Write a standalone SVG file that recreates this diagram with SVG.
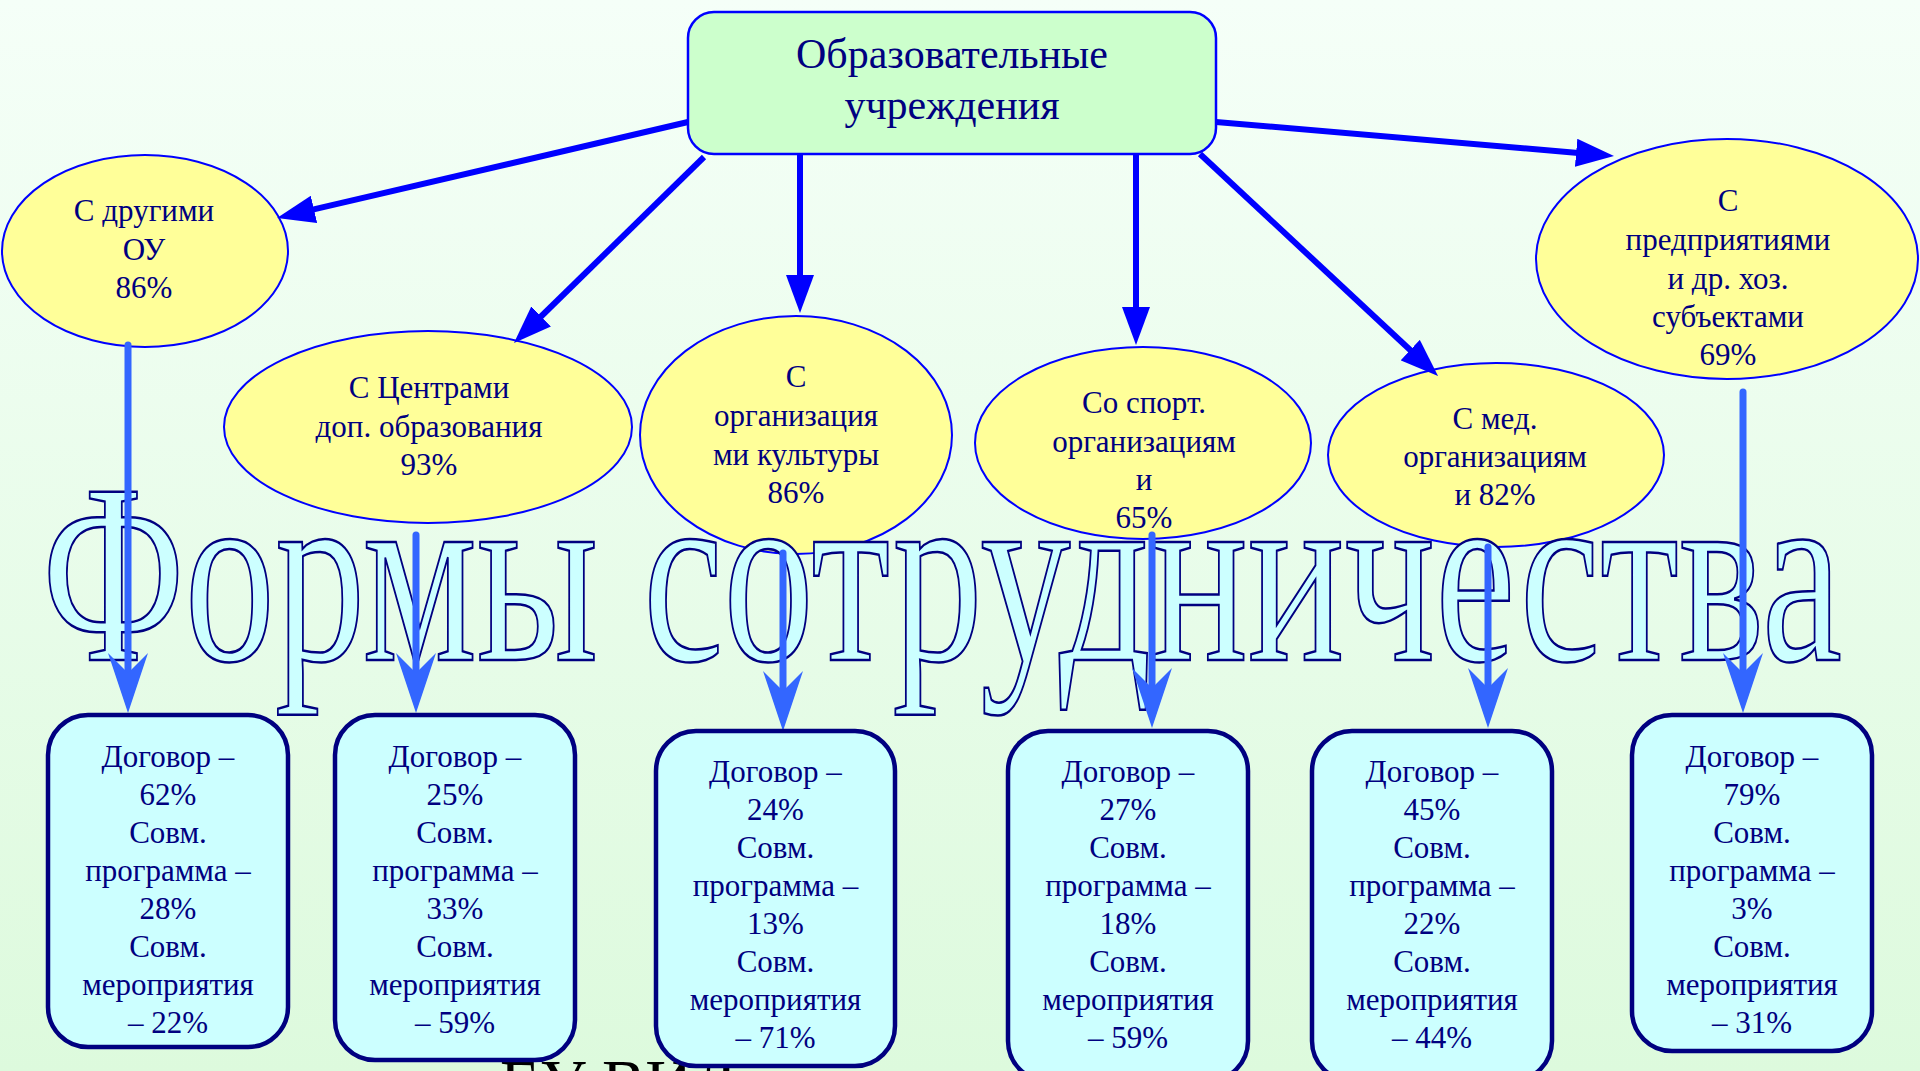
<svg xmlns="http://www.w3.org/2000/svg" width="1920" height="1071" viewBox="0 0 1920 1071">
<defs>
<linearGradient id="bg" x1="0" y1="0" x2="0" y2="1">
<stop offset="0" stop-color="#f5fff8"/>
<stop offset="1" stop-color="#ddfadd"/>
</linearGradient>
<marker id="ah" markerUnits="userSpaceOnUse" viewBox="0 0 40 28" markerWidth="40" markerHeight="28" refX="8" refY="14" orient="auto">
<path d="M0,0 L38,14 L0,28 z" fill="#0000ff"/>
</marker>
<marker id="ah2" markerUnits="userSpaceOnUse" viewBox="0 0 60 40" markerWidth="60" markerHeight="40" refX="22" refY="20" orient="auto">
<path d="M0,0 L60,20 L0,40 L20,20 z" fill="#3366ff"/>
</marker>
<style>
.t{font-family:"Liberation Serif","Times New Roman",serif;fill:#000080;text-anchor:middle;font-size:31px}
.el{fill:#ffff99;stroke:#0000ff;stroke-width:2}
.bx{fill:#ccffff;stroke:#000080;stroke-width:4.5}
.dk{stroke:#0000ff;stroke-width:6;fill:none;marker-end:url(#ah)}
.lt{stroke:#3366ff;stroke-width:7;stroke-linecap:round;fill:none;marker-end:url(#ah2)}
</style>
</defs>
<rect x="0" y="0" width="1920" height="1071" fill="url(#bg)"/>

<g id="root">
<rect x="688" y="12" width="528" height="142" rx="26" fill="#ccffcc" stroke="#0000ff" stroke-width="2.5"/>
<text class="t" style="font-size:42px"><tspan x="952" y="68">Образовательные</tspan><tspan x="952" y="119">учреждения</tspan></text>
</g>

<g id="e1">
<ellipse class="el" cx="145" cy="251" rx="143" ry="96"/>
<text class="t"><tspan x="144" y="221">С другими</tspan><tspan x="144" y="259.5">ОУ</tspan><tspan x="144" y="298">86%</tspan></text>
</g>
<g id="e2">
<ellipse class="el" cx="428" cy="427" rx="204" ry="96"/>
<text class="t"><tspan x="429" y="398">С Центрами</tspan><tspan x="429" y="436.5">доп. образования</tspan><tspan x="429" y="475">93%</tspan></text>
</g>
<g id="e3">
<ellipse class="el" cx="796" cy="435" rx="156" ry="119"/>
<text class="t"><tspan x="796" y="387">С</tspan><tspan x="796" y="426">организация</tspan><tspan x="796" y="465">ми культуры</tspan><tspan x="796" y="503">86%</tspan></text>
</g>
<g id="e4">
<ellipse class="el" cx="1143" cy="443" rx="168" ry="96"/>
<text class="t"><tspan x="1144" y="413">Со спорт.</tspan><tspan x="1144" y="452">организациям</tspan><tspan x="1144" y="490">и</tspan><tspan x="1144" y="528">65%</tspan></text>
</g>
<g id="e5">
<ellipse class="el" cx="1496" cy="455" rx="168" ry="92"/>
<text class="t"><tspan x="1495" y="429">С мед.</tspan><tspan x="1495" y="467">организациям</tspan><tspan x="1495" y="505">и 82%</tspan></text>
</g>
<g id="e6">
<ellipse class="el" cx="1727" cy="259" rx="191" ry="120"/>
<text class="t"><tspan x="1728" y="211">С</tspan><tspan x="1728" y="250">предприятиями</tspan><tspan x="1728" y="289">и др. хоз.</tspan><tspan x="1728" y="327">субъектами</tspan><tspan x="1728" y="365">69%</tspan></text>
</g>

<text x="500" y="1105" font-family="Liberation Serif, serif" font-size="65" fill="#000000">ЕУ ВИД</text>

<g id="title">
<text x="42" y="660" font-family="Liberation Serif, serif" font-size="257" textLength="1800" lengthAdjust="spacingAndGlyphs" fill="#ccffff" stroke="#000080" stroke-width="2.5">Формы сотрудничества</text>
</g>

<g id="connectors">
<line class="dk" x1="688" y1="122" x2="306.2" y2="211.2"/>
<line class="dk" x1="704" y1="157" x2="535.4" y2="322"/>
<line class="dk" x1="800" y1="155" x2="800" y2="283"/>
<line class="dk" x1="1136" y1="155" x2="1136" y2="315"/>
<line class="dk" x1="1200" y1="154" x2="1416.1" y2="355.5"/>
<line class="dk" x1="1216" y1="122" x2="1584.1" y2="153.4"/>
<line class="lt" x1="128" y1="345" x2="128" y2="675"/>
<line class="lt" x1="416" y1="535" x2="416" y2="675"/>
<line class="lt" x1="783" y1="553" x2="783" y2="693"/>
<line class="lt" x1="1152" y1="535" x2="1152" y2="690"/>
<line class="lt" x1="1488" y1="547" x2="1488" y2="690"/>
<line class="lt" x1="1743" y1="392" x2="1743" y2="675"/>
</g>

<g id="b1">
<rect class="bx" x="48" y="715" width="240" height="332" rx="40"/>
<text class="t"><tspan x="168" y="767">Договор –</tspan><tspan x="168" dy="38">62%</tspan><tspan x="168" dy="38">Совм.</tspan><tspan x="168" dy="38">программа –</tspan><tspan x="168" dy="38">28%</tspan><tspan x="168" dy="38">Совм.</tspan><tspan x="168" dy="38">мероприятия</tspan><tspan x="168" dy="38">– 22%</tspan></text>
</g>
<g id="b2">
<rect class="bx" x="335" y="715" width="240" height="345" rx="40"/>
<text class="t"><tspan x="455" y="767">Договор –</tspan><tspan x="455" dy="38">25%</tspan><tspan x="455" dy="38">Совм.</tspan><tspan x="455" dy="38">программа –</tspan><tspan x="455" dy="38">33%</tspan><tspan x="455" dy="38">Совм.</tspan><tspan x="455" dy="38">мероприятия</tspan><tspan x="455" dy="38">– 59%</tspan></text>
</g>
<g id="b3">
<rect class="bx" x="656" y="731" width="239" height="335" rx="40"/>
<text class="t"><tspan x="775.5" y="782">Договор –</tspan><tspan x="775.5" dy="38">24%</tspan><tspan x="775.5" dy="38">Совм.</tspan><tspan x="775.5" dy="38">программа –</tspan><tspan x="775.5" dy="38">13%</tspan><tspan x="775.5" dy="38">Совм.</tspan><tspan x="775.5" dy="38">мероприятия</tspan><tspan x="775.5" dy="38">– 71%</tspan></text>
</g>
<g id="b4">
<rect class="bx" x="1008" y="731" width="240" height="350" rx="40"/>
<text class="t"><tspan x="1128" y="782">Договор –</tspan><tspan x="1128" dy="38">27%</tspan><tspan x="1128" dy="38">Совм.</tspan><tspan x="1128" dy="38">программа –</tspan><tspan x="1128" dy="38">18%</tspan><tspan x="1128" dy="38">Совм.</tspan><tspan x="1128" dy="38">мероприятия</tspan><tspan x="1128" dy="38">– 59%</tspan></text>
</g>
<g id="b5">
<rect class="bx" x="1312" y="731" width="240" height="350" rx="40"/>
<text class="t"><tspan x="1432" y="782">Договор –</tspan><tspan x="1432" dy="38">45%</tspan><tspan x="1432" dy="38">Совм.</tspan><tspan x="1432" dy="38">программа –</tspan><tspan x="1432" dy="38">22%</tspan><tspan x="1432" dy="38">Совм.</tspan><tspan x="1432" dy="38">мероприятия</tspan><tspan x="1432" dy="38">– 44%</tspan></text>
</g>
<g id="b6">
<rect class="bx" x="1632" y="715" width="240" height="336" rx="40"/>
<text class="t"><tspan x="1752" y="767">Договор –</tspan><tspan x="1752" dy="38">79%</tspan><tspan x="1752" dy="38">Совм.</tspan><tspan x="1752" dy="38">программа –</tspan><tspan x="1752" dy="38">3%</tspan><tspan x="1752" dy="38">Совм.</tspan><tspan x="1752" dy="38">мероприятия</tspan><tspan x="1752" dy="38">– 31%</tspan></text>
</g>
</svg>
